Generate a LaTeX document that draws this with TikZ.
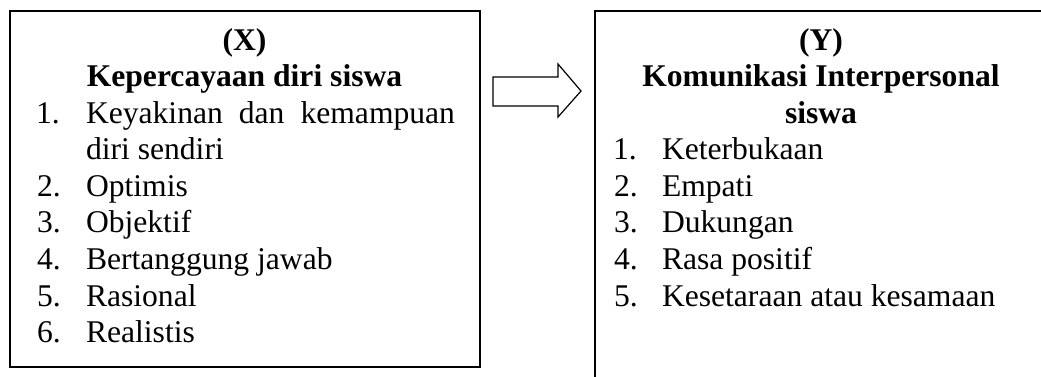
\documentclass[tikz,border=0pt]{standalone}
\usepackage{fontspec}
\setmainfont{Liberation Serif}
\tikzset{
  frame/.style={draw=black, line width=2pt},
  blockarrow/.style={draw=black, line width=1.2pt, fill=white, line join=miter},
  txt/.style={inner sep=0pt, outer sep=0pt, anchor=base west, font=\fontsize{31.6}{36.6}\selectfont},
  ttl/.style={inner sep=0pt, outer sep=0pt, anchor=base, font=\fontsize{31.6}{36.6}\selectfont\bfseries},
}
\begin{document}
\begin{tikzpicture}[x=1pt, y=-1pt]
\useasboundingbox (0,0) rectangle (1041,376);
\clip (0,0) rectangle (1041,376);
% boxes
\draw[frame] (9.5,11) rectangle (480,367);
\draw[frame] (595,10.5) rectangle (1050,395);
% block arrow
\draw[blockarrow] (493,77) -- (558,77) -- (558,64) -- (581,91) -- (558,117) -- (558,106) -- (493,106) -- cycle;
% left box text
\node[ttl] (xh) at (244.5,50) {(X)};
\node[ttl] (xt) at (244.5,86.5) {Kepercayaan diri siswa};
\node[txt] (x1n) at (36,123) {1.};
\node[txt] (x1) at (86,123) {\makebox[369pt][s]{Keyakinan dan kemampuan}};
\node[txt] (x1b) at (86,159.6) {diri sendiri};
\node[txt] (x2n) at (37,196.2) {2.};
\node[txt] (x2) at (86,196.2) {Optimis};
\node[txt] (x3n) at (37,232.8) {3.};
\node[txt] (x3) at (86,232.8) {Objektif};
\node[txt] (x4n) at (37,269.4) {4.};
\node[txt] (x4) at (86,269.4) {Bertanggung jawab};
\node[txt] (x5n) at (37,306) {5.};
\node[txt] (x5) at (86,306) {Rasional};
\node[txt] (x6n) at (37,342.6) {6.};
\node[txt] (x6) at (86,342.6) {Realistis};
% right box text
\node[ttl] (yh) at (821,50) {(Y)};
\node[ttl] (yt) at (821,86.5) {Komunikasi Interpersonal};
\node[ttl] (yt2) at (821,123) {siswa};
\node[txt] (y1n) at (613,159.6) {1.};
\node[txt] (y1) at (662,159.6) {Keterbukaan};
\node[txt] (y2n) at (614,196.2) {2.};
\node[txt] (y2) at (662,196.2) {Empati};
\node[txt] (y3n) at (614,232.8) {3.};
\node[txt] (y3) at (662,232.8) {Dukungan};
\node[txt] (y4n) at (614,269.4) {4.};
\node[txt] (y4) at (662,269.4) {Rasa positif};
\node[txt] (y5n) at (614,306) {5.};
\node[txt] (y5) at (662,306) {Kesetaraan atau kesamaan};
\end{tikzpicture}
\end{document}
